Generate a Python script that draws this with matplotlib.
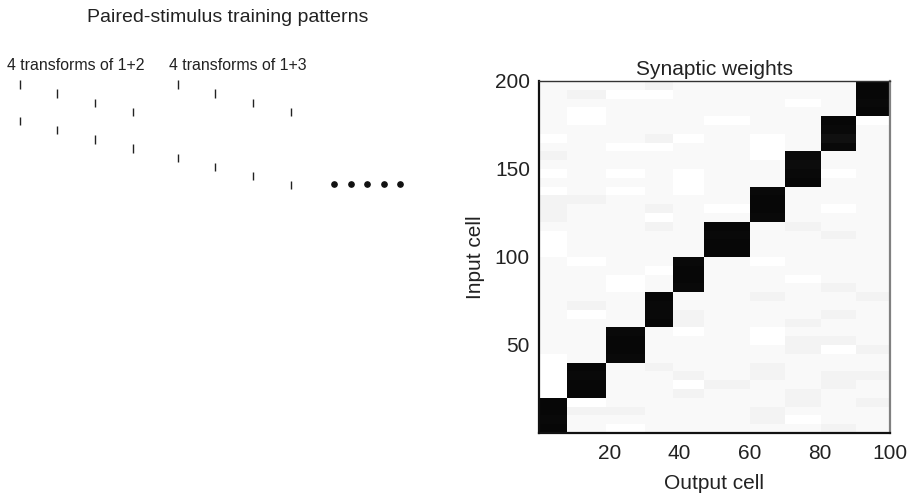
import numpy as np
import matplotlib
matplotlib.use("Agg")
import matplotlib.pyplot as plt

plt.rcParams["font.family"] = ["Liberation Sans", "DejaVu Sans"]

# ---------------- training patterns ----------------
pattern_titles = ["4 transforms of 1+2", "4 transforms of 1+3"]
partner_stimulus = [2, 3]          # stimulus paired with stimulus 1
n_transforms = 4
stimulus_offset = {1: 0, 2: 4, 3: 8}  # position of each stimulus (in rows)
n_dots = 5

# ---------------- synaptic weights ----------------
# output-cell cluster widths (sum = 100) and input cells per row group
cluster_widths = [8, 11, 11, 8, 9, 13, 10, 10, 10, 10]
inputs_per_group = 5
# background weight levels per row group (top row first), '#' = learned block
weight_rows = [
    "222422222#",
    "240022222#",
    "222222202#",
    "202222222#",
    "20222022#0",
    "22222222#2",
    "02240202#2",
    "22002202#2",
    "4222220#22",
    "2222222#22",
    "0202022#02",
    "2222022#22",
    "020202#222",
    "442222#222",
    "422420#202",
    "422022#222",
    "22242#2422",
    "02222#2242",
    "02222#2222",
    "02222#2222",
    "2022#20222",
    "2220#22222",
    "2202#22022",
    "2202#22242",
    "222#224224",
    "242#222222",
    "202#422242",
    "222#422422",
    "22#2020222",
    "22#2220442",
    "22#2222404",
    "02#2222222",
    "0#24224222",
    "0#22424244",
    "0#22042242",
    "0#22422422",
    "#022222424",
    "#442224222",
    "#222224022",
    "#202222242",
]
level_step = 0.0125
# strength of the learned blocks, block by block, bottom row group first
block_weights = [
    [0.97, 0.96, 0.97, 0.97],
    [0.97, 0.97, 0.96, 0.97],
    [0.96, 0.97, 0.97, 0.96],
    [0.97, 0.96, 0.96, 0.97],
    [0.96, 0.97, 0.97, 0.96],
    [0.97, 0.97, 0.96, 0.97],
    [0.96, 0.97, 0.97, 0.96],
    [0.97, 0.96, 0.95, 0.96],
    [0.96, 0.93, 0.96, 0.97],
    [0.97, 0.96, 0.97, 0.97],
]

fig = plt.figure(figsize=(9.1, 4.95), dpi=100)
W, H = 910, 495
ink = "#222222"

# ---- left panel drawn in pixel units ----
ax0 = fig.add_axes([0, 0, 1, 1])
ax0.set_xlim(0, W)
ax0.set_ylim(H, 0)
ax0.axis("off")

x_start, x_step, group_gap = 19.5, 37.7, 45.0
row_top, row_step, tick_half = 84.5, 9.15, 4.2
label_left = [7, 169]

ax0.text(228, 17, "Paired-stimulus training patterns", ha="center", va="center",
         fontsize=14, color=ink)

for g, (title, partner) in enumerate(zip(pattern_titles, partner_stimulus)):
    gx = x_start + g * (3 * x_step + group_gap)
    ax0.text(label_left[g], 66, title, ha="left", va="center", fontsize=11.4, color=ink)
    for k in range(n_transforms):
        x = gx + k * x_step
        for stim in (1, partner):
            r = stimulus_offset[stim] + k
            yc = row_top + r * row_step
            ax0.vlines(x, yc - tick_half, yc + tick_half, color=ink, lw=1.0)

dots_x = 334 + 16.5 * np.arange(n_dots)
ax0.plot(dots_x, np.full(n_dots, 183.5), "o", color="#111111", ms=3.8, ls="none")

# ---- weight matrix ----
n_groups = len(weight_rows)
grid = np.zeros((n_groups, len(cluster_widths)))
for i, row in enumerate(weight_rows[::-1]):      # bottom row group first
    for j, ch in enumerate(row):
        if ch == "#":
            grid[i, j] = block_weights[j][i - 4 * j]
        else:
            grid[i, j] = int(ch) * level_step

weights = np.repeat(np.repeat(grid, inputs_per_group, axis=0), cluster_widths, axis=1)

ax = fig.add_axes([539 / W, (H - 433) / H, 351 / W, 352 / H])
ax.imshow(weights, cmap="gray_r", vmin=0, vmax=1, origin="lower", aspect="auto",
          extent=[0, 100, 0, 200], interpolation="nearest")
ax.set_xlim(0, 100)
ax.set_ylim(0, 200)
ax.set_xticks([20, 40, 60, 80, 100])
ax.set_yticks([50, 100, 150, 200])
ax.tick_params(length=0, labelsize=15, colors=ink)
ax.tick_params(axis="x", pad=8)
ax.tick_params(axis="y", pad=6.5)
for side, col, lw in [("left", "#111111", 1.6), ("bottom", "#111111", 1.6),
                      ("top", "#333333", 1.0), ("right", "#808080", 1.6)]:
    ax.spines[side].set_color(col)
    ax.spines[side].set_linewidth(lw)
ax.set_title("Synaptic weights", fontsize=15, pad=4.5, color=ink)
ax.set_xlabel("Output cell", fontsize=15, labelpad=7.5, color=ink)
ax.set_ylabel("Input cell", fontsize=15, labelpad=7, color=ink)

fig.savefig("out.png", dpi=100)
